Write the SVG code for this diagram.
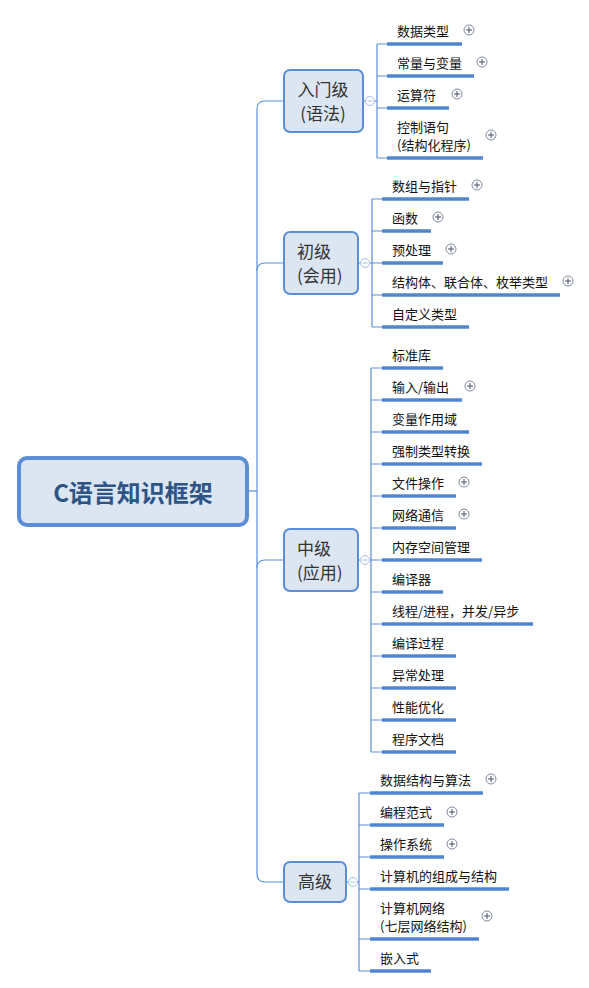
<svg xmlns="http://www.w3.org/2000/svg" width="589" height="988" viewBox="0 0 589 988">
<style>
.ln{fill:none;stroke:#5b8ed6;stroke-width:1.2}
.ul{stroke:#4f86cf;stroke-width:3.5;fill:none}
.l1{fill:#dce6f2;stroke:#5b8ed6;stroke-width:2}
.t{font-family:"Noto Sans CJK SC","Liberation Sans",sans-serif;font-size:13px;fill:#111}
.t1{font-family:"Noto Sans CJK SC","Liberation Sans",sans-serif;font-size:17px;fill:#333}
.pl circle{fill:#fff;stroke:#7f8ba0;stroke-width:1}
.pl path{stroke:#445066;stroke-width:1;fill:none}
.mn circle{fill:#fff;stroke:#a8c0e8;stroke-width:1}
.mn path{stroke:#a8c0e8;stroke-width:1;fill:none}
</style>
<defs>
<g id="plus" class="pl"><circle cx="0" cy="0" r="5"/><path d="M-3,0H3M0,-3V3"/></g>
<g id="minus" class="mn"><circle cx="0" cy="0" r="4.5"/><path d="M-2.5,0H2.5"/></g>
</defs>
<rect width="589" height="988" fill="#fff"/>
<g id="connectors">
<path class="ln" d="M248,491H257"/>
<path class="ln" d="M283,101H265Q257,101 257,109V874Q257,882 265,882H283"/>
<path class="ln" d="M283,263H265Q257,263 257,271"/>
<path class="ln" d="M283,560H265Q257,560 257,568"/>
<path class="ln" d="M363,101H377M377,44V158M377,44H387M377,76H387M377,108H387M377,158H387"/>
<path class="ln" d="M358,263H372M372,199V327M372,199H382M372,231H382M372,263H382M372,295H382M372,327H382"/>
<path class="ln" d="M358,560H371M371,368V752M371,368H382M371,400H382M371,432H382M371,464H382M371,496H382M371,528H382M371,560H382M371,592H382M371,624H382M371,656H382M371,688H382M371,720H382M371,752H382"/>
<path class="ln" d="M346,882H359M359,793V971M359,793H370M359,825H370M359,857H370M359,889H370M359,939H370M359,971H370"/>
</g>
<g id="root">
<rect x="19" y="458" width="228" height="67" rx="8" fill="#dce6f2" stroke="#5b8ed6" stroke-width="4"/>
<text x="133" y="502" text-anchor="middle" font-family="'Noto Sans CJK SC','Liberation Sans',sans-serif" font-size="24" font-weight="bold" fill="#2e5486">C语言知识框架</text>
</g>
<g id="n-rumen">
<rect class="l1" x="284" y="70" width="79" height="62" rx="6"/>
<text class="t1" x="323" y="96" text-anchor="middle">入门级</text>
<text class="t1" x="323" y="120" text-anchor="middle">(语法)</text>
<use href="#minus" x="370" y="101"/>
</g>
<g id="n-chuji">
<rect class="l1" x="284" y="232" width="74" height="62" rx="6"/>
<text class="t1" x="297" y="258">初级</text>
<text class="t1" x="297" y="282">(会用)</text>
<use href="#minus" x="365" y="263"/>
</g>
<g id="n-zhongji">
<rect class="l1" x="284" y="529" width="74" height="62" rx="6"/>
<text class="t1" x="297" y="555">中级</text>
<text class="t1" x="297" y="579">(应用)</text>
<use href="#minus" x="365" y="560"/>
</g>
<g id="n-gaoji">
<rect class="l1" x="284" y="862" width="62" height="40" rx="6"/>
<text class="t1" x="315" y="888" text-anchor="middle">高级</text>
<use href="#minus" x="353" y="882"/>
</g>
<g id="c-rumen">
<g id="c1"><path class="ul" d="M387,44H462"/><text class="t" x="397" y="36">数据类型</text><use href="#plus" x="469" y="30"/></g>
<g id="c2"><path class="ul" d="M387,76H474"/><text class="t" x="397" y="68">常量与变量</text><use href="#plus" x="482" y="62"/></g>
<g id="c3"><path class="ul" d="M387,108H449"/><text class="t" x="397" y="100">运算符</text><use href="#plus" x="457" y="94"/></g>
<g id="c4"><path class="ul" d="M387,158H483"/><text class="t" x="397" y="132">控制语句</text><text class="t" x="397" y="150">(结构化程序)</text><use href="#plus" x="491" y="135"/></g>
</g>
<g id="c-chuji">
<g id="c5"><path class="ul" d="M382,199H469"/><text class="t" x="392" y="191">数组与指针</text><use href="#plus" x="477" y="185"/></g>
<g id="c6"><path class="ul" d="M382,231H431"/><text class="t" x="392" y="223">函数</text><use href="#plus" x="438" y="217"/></g>
<g id="c7"><path class="ul" d="M382,263H443"/><text class="t" x="392" y="255">预处理</text><use href="#plus" x="451" y="249"/></g>
<g id="c8"><path class="ul" d="M382,295H560"/><text class="t" x="392" y="287">结构体、联合体、枚举类型</text><use href="#plus" x="568" y="281"/></g>
<g id="c9"><path class="ul" d="M382,327H469"/><text class="t" x="392" y="319">自定义类型</text></g>
</g>
<g id="c-zhongji">
<g id="c10"><path class="ul" d="M382,368H443"/><text class="t" x="392" y="360">标准库</text></g>
<g id="c11"><path class="ul" d="M382,400H462"/><text class="t" x="392" y="392">输入/输出</text><use href="#plus" x="470" y="386"/></g>
<g id="c12"><path class="ul" d="M382,432H469"/><text class="t" x="392" y="424">变量作用域</text></g>
<g id="c13"><path class="ul" d="M382,464H482"/><text class="t" x="392" y="456">强制类型转换</text></g>
<g id="c14"><path class="ul" d="M382,496H456"/><text class="t" x="392" y="488">文件操作</text><use href="#plus" x="464" y="482"/></g>
<g id="c15"><path class="ul" d="M382,528H456"/><text class="t" x="392" y="520">网络通信</text><use href="#plus" x="464" y="514"/></g>
<g id="c16"><path class="ul" d="M382,560H482"/><text class="t" x="392" y="552">内存空间管理</text></g>
<g id="c17"><path class="ul" d="M382,592H443"/><text class="t" x="392" y="584">编译器</text></g>
<g id="c18"><path class="ul" d="M382,624H533"/><text class="t" x="392" y="616">线程/进程，并发/异步</text></g>
<g id="c19"><path class="ul" d="M382,656H456"/><text class="t" x="392" y="648">编译过程</text></g>
<g id="c20"><path class="ul" d="M382,688H456"/><text class="t" x="392" y="680">异常处理</text></g>
<g id="c21"><path class="ul" d="M382,720H456"/><text class="t" x="392" y="712">性能优化</text></g>
<g id="c22"><path class="ul" d="M382,752H456"/><text class="t" x="392" y="744">程序文档</text></g>
</g>
<g id="c-gaoji">
<g id="c23"><path class="ul" d="M370,793H483"/><text class="t" x="380" y="785">数据结构与算法</text><use href="#plus" x="491" y="779"/></g>
<g id="c24"><path class="ul" d="M370,825H444"/><text class="t" x="380" y="817">编程范式</text><use href="#plus" x="452" y="812"/></g>
<g id="c25"><path class="ul" d="M370,857H444"/><text class="t" x="380" y="849">操作系统</text><use href="#plus" x="452" y="844"/></g>
<g id="c26"><path class="ul" d="M370,889H509"/><text class="t" x="380" y="881">计算机的组成与结构</text></g>
<g id="c27"><path class="ul" d="M370,939H479"/><text class="t" x="380" y="913">计算机网络</text><text class="t" x="380" y="931">(七层网络结构)</text><use href="#plus" x="487" y="916"/></g>
<g id="c28"><path class="ul" d="M370,971H431"/><text class="t" x="380" y="963">嵌入式</text></g>
</g>
</svg>
